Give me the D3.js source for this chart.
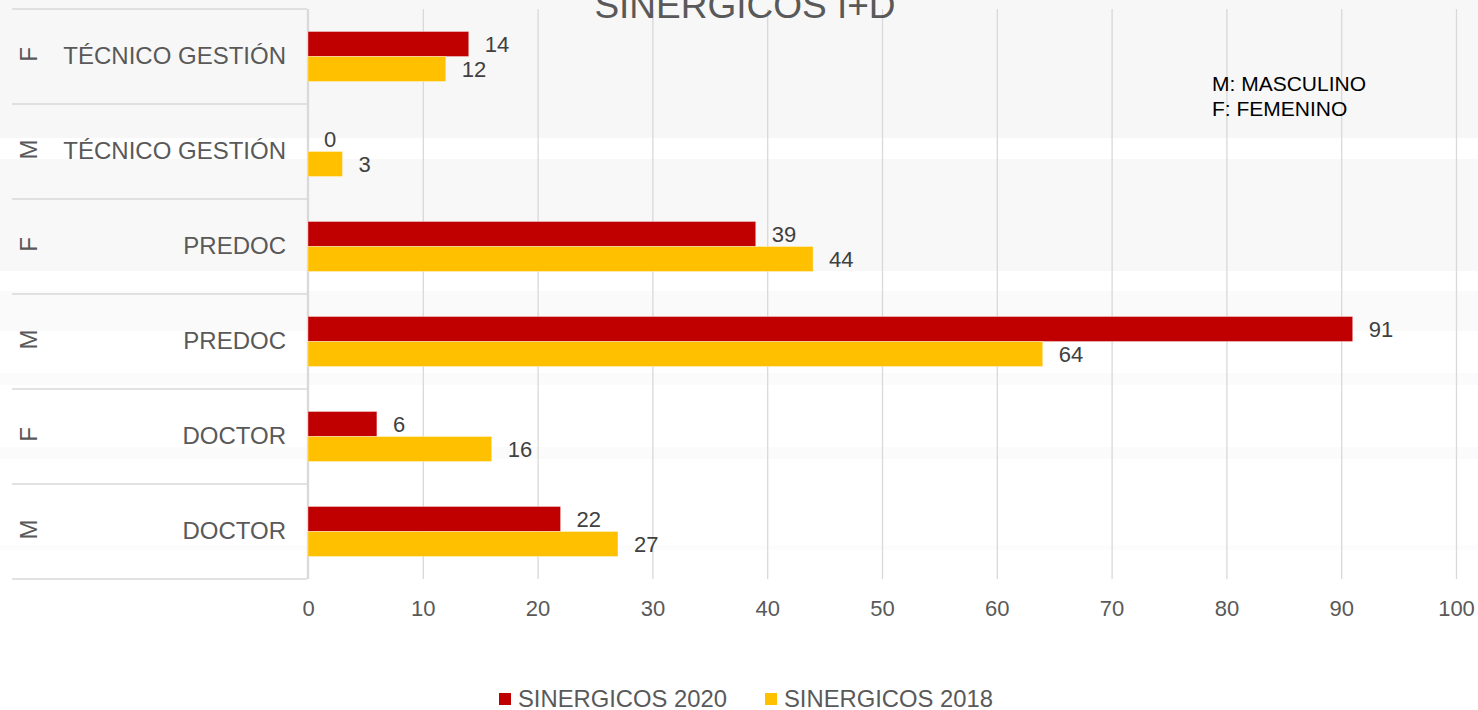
<!DOCTYPE html>
<html>
<head>
<meta charset="utf-8">
<script src="https://cdn.jsdelivr.net/npm/d3@7"></script>
<style>
  body { margin: 0; background: #ffffff; overflow: hidden; }
  text { font-family: "Liberation Sans", Arial, sans-serif; }
</style>
</head>
<body>
<div id="wrapper"></div>
<script>
// data, listed top to bottom as drawn
const roles = ["TÉCNICO GESTIÓN", "TÉCNICO GESTIÓN", "PREDOC", "PREDOC", "DOCTOR", "DOCTOR"];
const genders = ["F", "M", "F", "M", "F", "M"];
const values2020 = [14, 0, 39, 91, 6, 22];
const values2018 = [12, 3, 44, 64, 16, 27];
const seriesNames = ["SINERGICOS 2020", "SINERGICOS 2018"];
const seriesColors = ["#c00000", "#ffc000"];
const xTicks = [0, 10, 20, 30, 40, 50, 60, 70, 80, 90, 100];

function drawChart() {
  const width = 1478;
  const height = 710;
  const margin = { top: 9, right: 22, bottom: 131, left: 308 };
  const plotWidth = width - margin.left - margin.right;
  const plotHeight = height - margin.top - margin.bottom;

  const rows = roles.map((r, i) => ({
    id: i,
    role: r,
    gender: genders[i],
    values: [values2020[i], values2018[i]],
  }));

  const svg = d3
    .select("#wrapper")
    .append("svg")
    .attr("width", width)
    .attr("height", height);

  // faint background bands
  const bands = [
    [0, 138, "#f7f7f7"],
    [159, 271, "#f8f8f8"],
    [291, 331, "#fafafa"],
    [373, 385, "#fbfbfb"],
    [447, 459, "#fbfbfb"],
    [545, 550, "#fcfcfc"],
  ];
  svg
    .selectAll(".band")
    .data(bands)
    .enter()
    .append("rect")
    .attr("class", "band")
    .attr("x", 0)
    .attr("width", width)
    .attr("y", (d) => d[0])
    .attr("height", (d) => d[1] - d[0])
    .attr("fill", (d) => d[2]);

  // scales
  const xScale = d3.scaleLinear().domain([0, 100]).range([0, plotWidth]);
  const yScale = d3
    .scaleBand()
    .domain(rows.map((d) => d.id))
    .range([0, plotHeight]);
  const barScale = d3
    .scaleBand()
    .domain([0, 1])
    .range([0, yScale.bandwidth()])
    .paddingOuter(0.9);

  const plot = svg
    .append("g")
    .attr("transform", `translate(${margin.left}, ${margin.top})`);

  // x axis with gridlines
  const xAxis = d3
    .axisBottom(xScale)
    .tickValues(xTicks)
    .tickSizeInner(-plotHeight)
    .tickSizeOuter(0)
    .tickPadding(21);
  const xAxisGroup = plot
    .append("g")
    .attr("transform", `translate(0, ${plotHeight})`)
    .call(xAxis);
  xAxisGroup.select(".domain").remove();
  xAxisGroup
    .selectAll("line")
    .attr("stroke", "#d9d9d9")
    .attr("stroke-width", 1.3);
  xAxisGroup
    .selectAll("text")
    .attr("fill", "#595959")
    .style("font-size", "22px");

  // left category box
  const boundaries = rows.map((d) => yScale(d.id)).concat([plotHeight]);
  plot
    .selectAll(".sep")
    .data(boundaries)
    .enter()
    .append("line")
    .attr("class", "sep")
    .attr("x1", -296)
    .attr("x2", -1)
    .attr("y1", (d) => d)
    .attr("y2", (d) => d)
    .attr("stroke", "#d9d9d9")
    .attr("stroke-width", 1.3);
  plot
    .append("line")
    .attr("x1", -0.5)
    .attr("x2", -0.5)
    .attr("y1", 0)
    .attr("y2", plotHeight)
    .attr("stroke", "#d9d9d9")
    .attr("stroke-width", 1.3);

  plot
    .selectAll(".role")
    .data(rows)
    .enter()
    .append("text")
    .attr("class", "role")
    .attr("x", -22)
    .attr("y", (d) => yScale(d.id) + yScale.bandwidth() / 2 - 1)
    .attr("dy", "0.36em")
    .attr("text-anchor", "end")
    .attr("fill", "#595959")
    .style("font-size", "24px")
    .text((d) => d.role);

  plot
    .selectAll(".gender")
    .data(rows)
    .enter()
    .append("text")
    .attr("class", "gender")
    .attr(
      "transform",
      (d) =>
        `translate(${-271}, ${yScale(d.id) + yScale.bandwidth() / 2 - 2}) rotate(-90)`
    )
    .attr("text-anchor", "middle")
    .attr("fill", "#595959")
    .style("font-size", "24px")
    .text((d) => d.gender);

  // bars
  const groups = plot
    .selectAll(".row")
    .data(rows)
    .enter()
    .append("g")
    .attr("class", "row")
    .attr("transform", (d) => `translate(0, ${yScale(d.id)})`);

  const barData = (d) => d.values.map((v, i) => ({ value: v, series: i }));

  groups
    .selectAll("rect")
    .data(barData)
    .enter()
    .append("rect")
    .attr("x", 0)
    .attr("y", (d) => barScale(d.series))
    .attr("width", (d) => xScale(d.value))
    .attr("height", barScale.bandwidth())
    .attr("fill", (d) => seriesColors[d.series])
    .attr("stroke", (d) => (d.value > 0 ? "#ffffff" : "none"))
    .attr("stroke-opacity", 0.35)
    .attr("stroke-width", 1);

  groups
    .selectAll(".value")
    .data(barData)
    .enter()
    .append("text")
    .attr("class", "value")
    .attr("x", (d) => xScale(d.value) + 16)
    .attr("y", (d) => barScale(d.series) + barScale.bandwidth() / 2)
    .attr("dy", "0.36em")
    .attr("fill", "#404040")
    .style("font-size", "22px")
    .text((d) => d.value);

  // title (cut off at the top, as in the source)
  svg
    .append("text")
    .attr("x", 745)
    .attr("y", 18)
    .attr("text-anchor", "middle")
    .attr("fill", "#595959")
    .style("font-size", "37px")
    .text("SINERGICOS I+D");

  // gender note
  const note = svg
    .append("text")
    .attr("x", 1212)
    .attr("y", 91)
    .attr("fill", "#000000")
    .style("font-size", "21px");
  note.append("tspan").attr("x", 1212).text("M: MASCULINO");
  note.append("tspan").attr("x", 1212).attr("dy", 25).text("F: FEMENINO");

  // legend
  const legendX = [499, 765];
  const legend = svg
    .selectAll(".legend")
    .data(seriesNames)
    .enter()
    .append("g")
    .attr("class", "legend")
    .attr("transform", (d, i) => `translate(${legendX[i]}, 693)`);
  legend
    .append("rect")
    .attr("width", 12)
    .attr("height", 12)
    .attr("fill", (d, i) => seriesColors[i]);
  legend
    .append("text")
    .attr("x", 19)
    .attr("y", 13.5)
    .attr("fill", "#595959")
    .style("font-size", "23.8px")
    .text((d) => d);
}
drawChart();
</script>
</body>
</html>
